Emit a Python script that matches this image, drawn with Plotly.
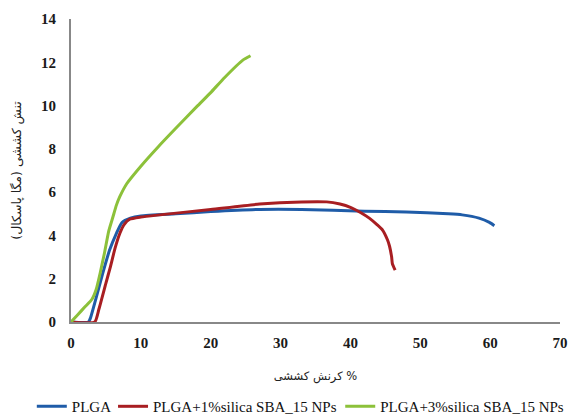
import plotly.graph_objects as go

# Data (strain %, stress MPa)
plga_x = [0, 2.5, 2.8, 3.5, 4.5, 5.5, 6.5, 7.3, 8.5, 10, 15, 20, 27, 33, 42, 48, 54, 56, 58.4, 59.9, 60.6]
plga_y = [0, 0, 0.2, 1.0, 2.2, 3.3, 4.1, 4.6, 4.8, 4.9, 5.0, 5.1, 5.2, 5.2, 5.12, 5.08, 5.0, 4.95, 4.8, 4.6, 4.45]

plga1_x = [0, 3.4, 4, 5, 5.6, 6.3, 7, 7.6, 8.4, 10, 12.7, 20, 27, 33, 36.6, 38.5, 40, 41.5, 42.7, 43.8, 44.6, 45.3, 45.6, 45.9, 46, 46.4]
plga1_y = [0, 0, 0.6, 1.8, 2.5, 3.4, 4.1, 4.5, 4.75, 4.85, 4.95, 5.2, 5.45, 5.55, 5.55, 5.45, 5.3, 5.05, 4.8, 4.5, 4.25, 3.8, 3.5, 3.0, 2.7, 2.4]

plga3_x = [0, 1, 2, 3, 3.6, 4.2, 4.8, 5.4, 6, 6.5, 7, 8, 10, 12.5, 15, 18, 20, 22, 24.6, 25.7]
plga3_y = [0, 0.35, 0.7, 1.05, 1.5, 2.3, 3.2, 4.2, 4.85, 5.4, 5.8, 6.4, 7.2, 8.1, 8.95, 9.95, 10.6, 11.3, 12.1, 12.3]

names = ["PLGA", "PLGA+1%silica SBA_15 NPs", "PLGA+3%silica SBA_15 NPs"]
colors = ["#1F5CA8", "#A81E22", "#8CC13A"]

x_ticks = [0, 10, 20, 30, 40, 50, 60, 70]
y_ticks = [0, 2, 4, 6, 8, 10, 12, 14]

legend_ids = ["legend", "legend2", "legend3"]
legend_x = [0.056, 0.199, 0.599]

fig = go.Figure()
for xs, ys, n, c, lg in zip([plga_x, plga1_x, plga3_x], [plga_y, plga1_y, plga3_y], names, colors, legend_ids):
    fig.add_trace(go.Scatter(x=xs, y=ys, mode="lines", name=n, legend=lg,
                             line=dict(color=c, width=3, shape="spline", smoothing=0.5)))

serif = "Liberation Serif"
tick_font = dict(family=serif, size=15, color="#1a1a1a", weight="bold")
legend_style = lambda lx: dict(orientation="h", xref="container", x=lx, xanchor="left",
                               yref="container", y=0.018, yanchor="middle",
                               font=dict(family=serif, size=15, color="#111111"),
                               itemwidth=30, bgcolor="rgba(0,0,0,0)")
fig.update_layout(
    width=568, height=414,
    margin=dict(l=71, r=8, t=19, b=92, autoexpand=False),
    plot_bgcolor="white", paper_bgcolor="white",
    showlegend=True,
    legend=legend_style(legend_x[0]),
    legend2=legend_style(legend_x[1]),
    legend3=legend_style(legend_x[2]),
    xaxis=dict(range=[0, 70], tickvals=x_ticks, showgrid=False, zeroline=False,
               showline=True, linecolor="#888888", linewidth=2, ticks="",
               tickfont=tick_font, ticklabelstandoff=6, automargin=False,
               title=dict(text="کرنش کششی %", font=dict(family="DejaVu Sans", size=11.5, color="#222222"),
                          standoff=22)),
    yaxis=dict(range=[0, 14], tickvals=y_ticks, showgrid=False, zeroline=False,
               showline=True, linecolor="#888888", linewidth=2, ticks="",
               tickfont=tick_font, ticklabelstandoff=10, automargin=False,
               title=dict(text="تنش کششی (مگا پاسکال)", font=dict(family="DejaVu Sans", size=12.5, color="#222222"),
                          standoff=17)),
)

fig.write_html("out.html")
